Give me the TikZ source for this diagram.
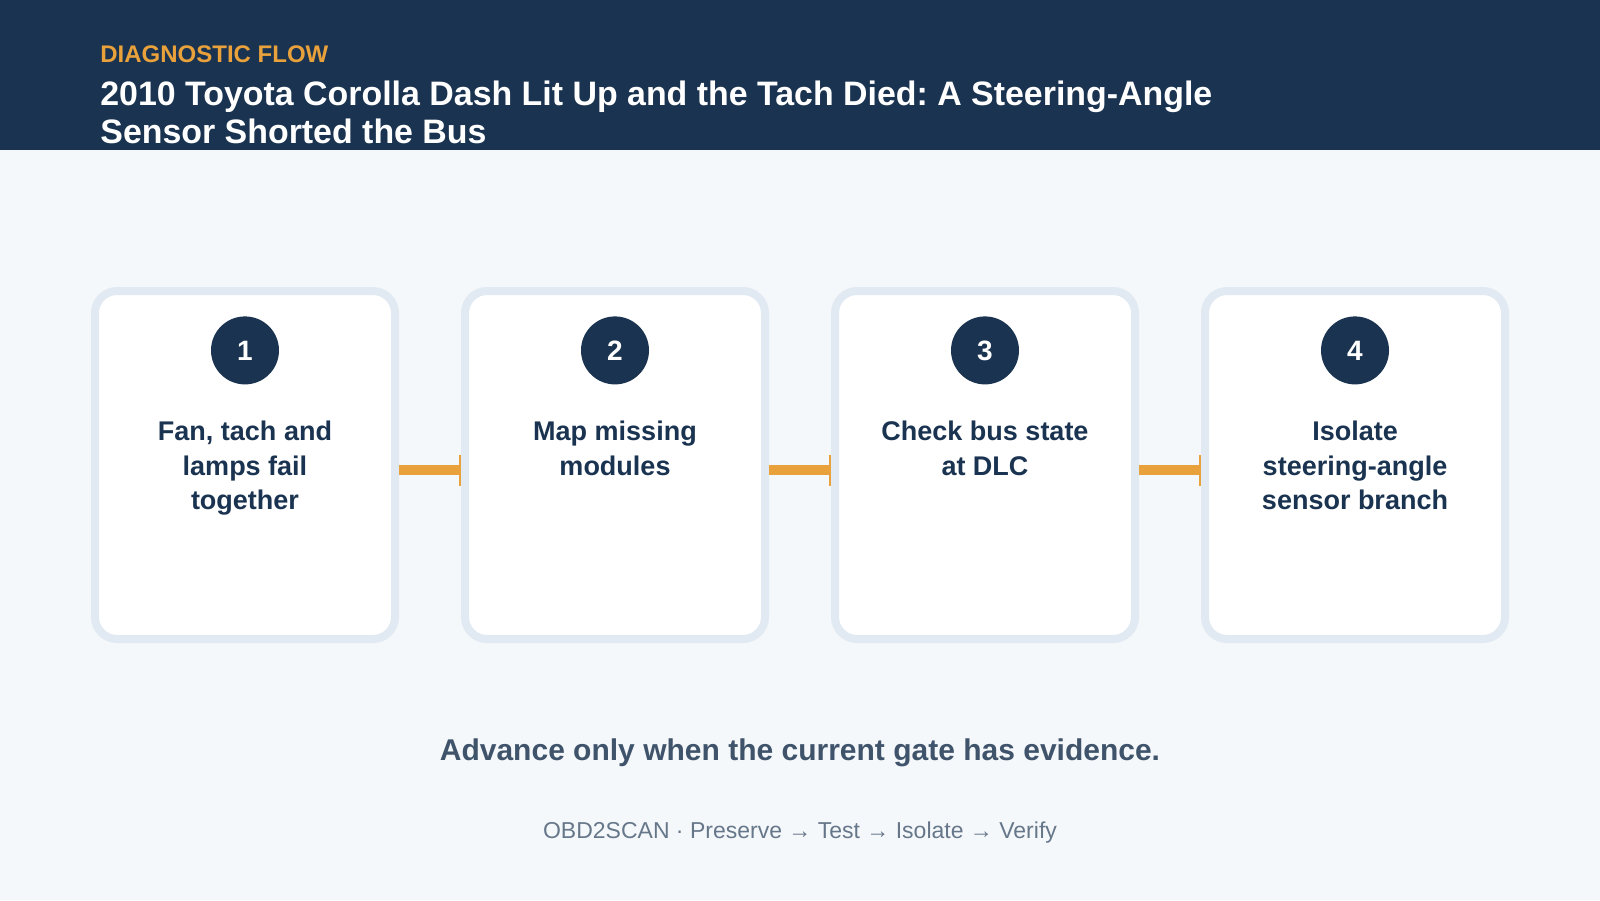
\documentclass[tikz,border=0pt]{standalone}
\usepackage{fontspec}
\setmainfont{Liberation Sans}
\frenchspacing
\usetikzlibrary{positioning,arrows.meta}
\definecolor{navy}{HTML}{1A3350}
\definecolor{amber}{HTML}{E9A23B}
\definecolor{paper}{HTML}{F5F8FB}
\definecolor{rim}{HTML}{E1E9F2}
\definecolor{slate}{HTML}{3F546B}
\definecolor{mist}{HTML}{66778A}
\tikzset{
  card/.style={draw=rim, line width=4pt, fill=white, rounded corners=11pt, minimum width=150pt, minimum height=174pt, inner sep=0pt},
  badge/.style={circle, fill=navy, text=white, minimum size=34pt, inner sep=0pt, font=\fontsize{14}{16}\selectfont\bfseries},
  steptext/.style={text=navy, align=center, inner sep=0pt, font=\fontsize{13.5}{17.4}\selectfont\bfseries},
  flow/.style={draw=amber, line width=5pt, -{Bar[width=15.5pt, line width=1pt]}}
}
\begin{document}
\begin{tikzpicture}[x=0.5pt, y=-0.5pt]
  \useasboundingbox (0,0) rectangle (1600,900);
  \fill[paper] (0,0) rectangle (1600,900);
  \fill[navy] (0,0) rectangle (1600,150);
  \node[anchor=base west, inner sep=0pt, text=amber, font=\fontsize{12}{14}\selectfont\bfseries] (kicker) at (100,62) {DIAGNOSTIC FLOW};
  \node[anchor=north west, inner sep=0pt, align=left, text=white, font=\fontsize{16.95}{19}\selectfont\bfseries] (title) at (100,80.5) {2010 Toyota Corolla Dash Lit Up and the Tach Died: A Steering-Angle\\Sensor Shorted the Bus};

  \node[card] (c1) at (245,465) {};
  \node[card, right=31pt of c1] (c2) {};
  \node[card, right=31pt of c2] (c3) {};
  \node[card, right=31pt of c3] (c4) {};
  \foreach \i/\txt in {1/{Fan, tach and\\lamps fail\\together}, 2/{Map missing\\modules}, 3/{Check bus state\\at DLC}, 4/{Isolate\\steering-angle\\sensor branch}}{
    \node[badge, below=14.5pt of c\i.north] (b\i) {\i};
    \node[steptext, below=17.8pt of b\i] (t\i) {\txt};
  }
  \foreach \a/\b in {1/2, 2/3, 3/4}
    \draw[flow] ([yshift=-2.5pt]c\a.east) -- ([yshift=-2.5pt]c\b.west);

  \node[anchor=base, inner sep=0pt, text=slate, font=\fontsize{15}{18}\selectfont\bfseries] (motto) at (800,760) {Advance only when the current gate has evidence.};
  \node[anchor=base, inner sep=0pt, text=mist, font=\fontsize{11.5}{13}\selectfont] (brand) at (800,838) {OBD2SCAN · Preserve → Test → Isolate → Verify};
\end{tikzpicture}
\end{document}
